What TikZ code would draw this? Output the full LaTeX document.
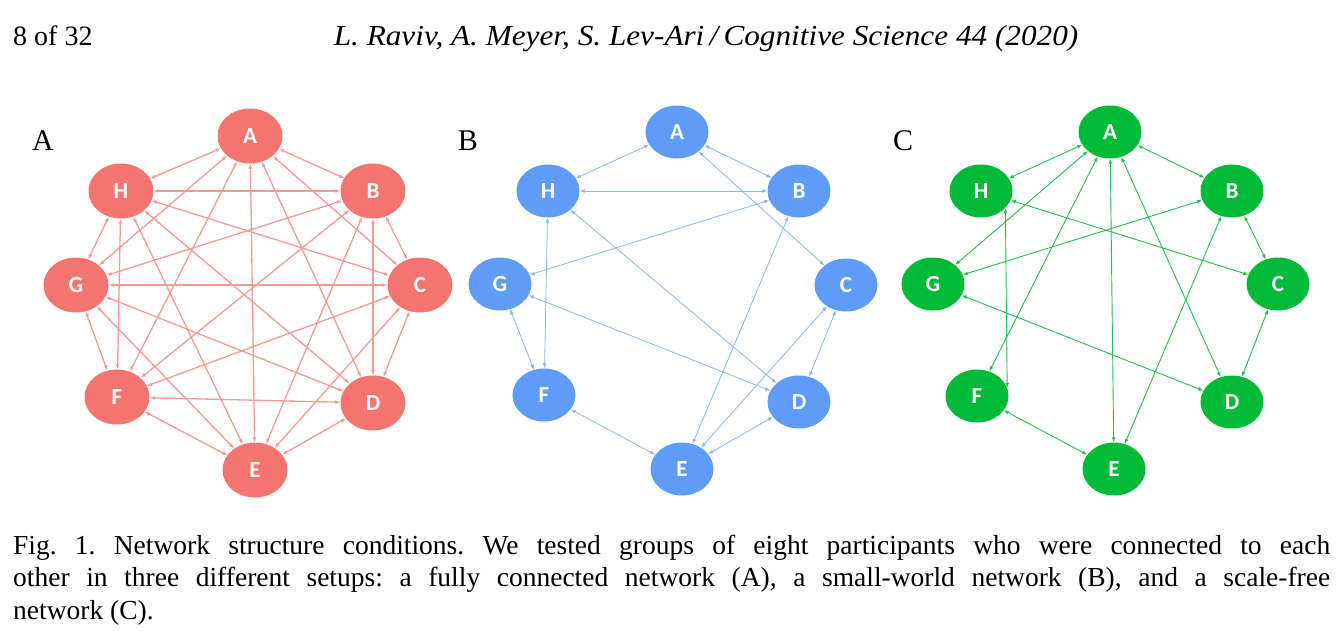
\documentclass[tikz,border=0pt]{standalone}
\usepackage{fontspec}
\setmainfont{Liberation Serif}
\newfontfamily\nodefontfam{Carlito}
\usetikzlibrary{shapes.geometric,arrows.meta}
\definecolor{redn}{HTML}{F4756F}
\definecolor{rede}{HTML}{F79893}
\definecolor{bluen}{HTML}{5E9CF7}
\definecolor{bluee}{HTML}{86B5F8}
\definecolor{greenn}{HTML}{00BA38}
\definecolor{greene}{HTML}{22C04A}
\tikzset{
  nd/.style={ellipse, minimum width=63pt, minimum height=53pt, inner sep=0pt, text=white,
    font=\nodefontfam\bfseries\fontsize{23}{23}\selectfont},
  rnode/.style={nd, fill=redn, minimum width=65pt, minimum height=55pt},
  bnode/.style={nd, fill=bluen},
  gnode/.style={nd, fill=greenn},
  tips/.style={{Latex[length=5pt,width=4pt]}-{Latex[length=5pt,width=4pt]}},
  redge/.style={draw=rede, line width=1.3pt, tips},
  bedge/.style={draw=bluee, line width=0.8pt, tips},
  gedge/.style={draw=greene, line width=0.9pt, tips},
  panel/.style={font=\fontsize{30}{30}\selectfont, anchor=base},
}
\begin{document}
\begin{tikzpicture}[x=1pt,y=-1pt]
\useasboundingbox (0,0) rectangle (1342,642);
% header
\node[anchor=base west, inner sep=0pt, font=\fontsize{28}{28}\selectfont] (pg) at (13,46) {8 of 32};
\node[anchor=base, inner sep=0pt, font=\itshape\fontsize{29}{29}\selectfont] (hd) at (706,46) {\scalebox{1.077}[1]{L. Raviv, A. Meyer, S. Lev-Ari\,/\,Cognitive Science 44 (2020)}};
% panel labels
\node[panel] (la) at (43,150) {A};
\node[panel] (lb) at (468,150) {B};
\node[panel] (lc) at (903,150) {C};
% network A (fully connected)
\node[rnode] (r1) at (250,136) {A};
\node[rnode] (r2) at (373,191) {B};
\node[rnode] (r3) at (420,285) {C};
\node[rnode] (r4) at (373,403) {D};
\node[rnode] (r5) at (255,470) {E};
\node[rnode] (r6) at (117,397) {F};
\node[rnode] (r7) at (76,285) {G};
\node[rnode] (r8) at (121,191) {H};
\foreach \i in {1,...,7}{
  \pgfmathtruncatemacro\s{\i+1}
  \foreach \j in {\s,...,8}{ \draw[redge] (r\i) -- (r\j); }
}
% network B (small world)
\node[bnode] (b1) at (677,132) {A};
\node[bnode] (b2) at (799,191) {B};
\node[bnode] (b3) at (846,285) {C};
\node[bnode] (b4) at (799,402) {D};
\node[bnode] (b5) at (682,469) {E};
\node[bnode] (b6) at (544,395) {F};
\node[bnode] (b7) at (500,284) {G};
\node[bnode] (b8) at (548,191) {H};
\foreach \u/\v in {1/8,1/2,8/2,2/7,1/3,8/4,8/6,7/6,7/4,2/5,3/5,3/4,6/5,4/5}
  \draw[bedge] (b\u) -- (b\v);
% network C (scale free)
\node[gnode] (g1) at (1110,132) {A};
\node[gnode] (g2) at (1232,191) {B};
\node[gnode] (g3) at (1278,284) {C};
\node[gnode] (g4) at (1232,402) {D};
\node[gnode] (g5) at (1114,469) {E};
\node[gnode] (g6) at (977,396) {F};
\node[gnode] (g7) at (933,284) {G};
\node[gnode] (g8) at (981,191) {H};
\foreach \u/\v in {1/8,1/2,1/7,1/6,1/5,1/4,8/3,2/7,2/3,2/5,7/4,3/4,6/5}
  \draw[gedge] (g\u) -- (g\v);
\draw[gedge] (g8.-35) -- (g6.15);
% caption
\node[anchor=base west, inner sep=0pt, text width=1317pt, align=justify,
  font=\frenchspacing\fontsize{27.5}{32.7}\selectfont] (cap) at (13,554)
{Fig. 1. Network structure conditions. We tested groups of eight participants who were connected to each\linebreak
other in three different setups: a fully connected network (A), a small-world network (B), and a scale-free\linebreak
network (C).};
\end{tikzpicture}
\end{document}
